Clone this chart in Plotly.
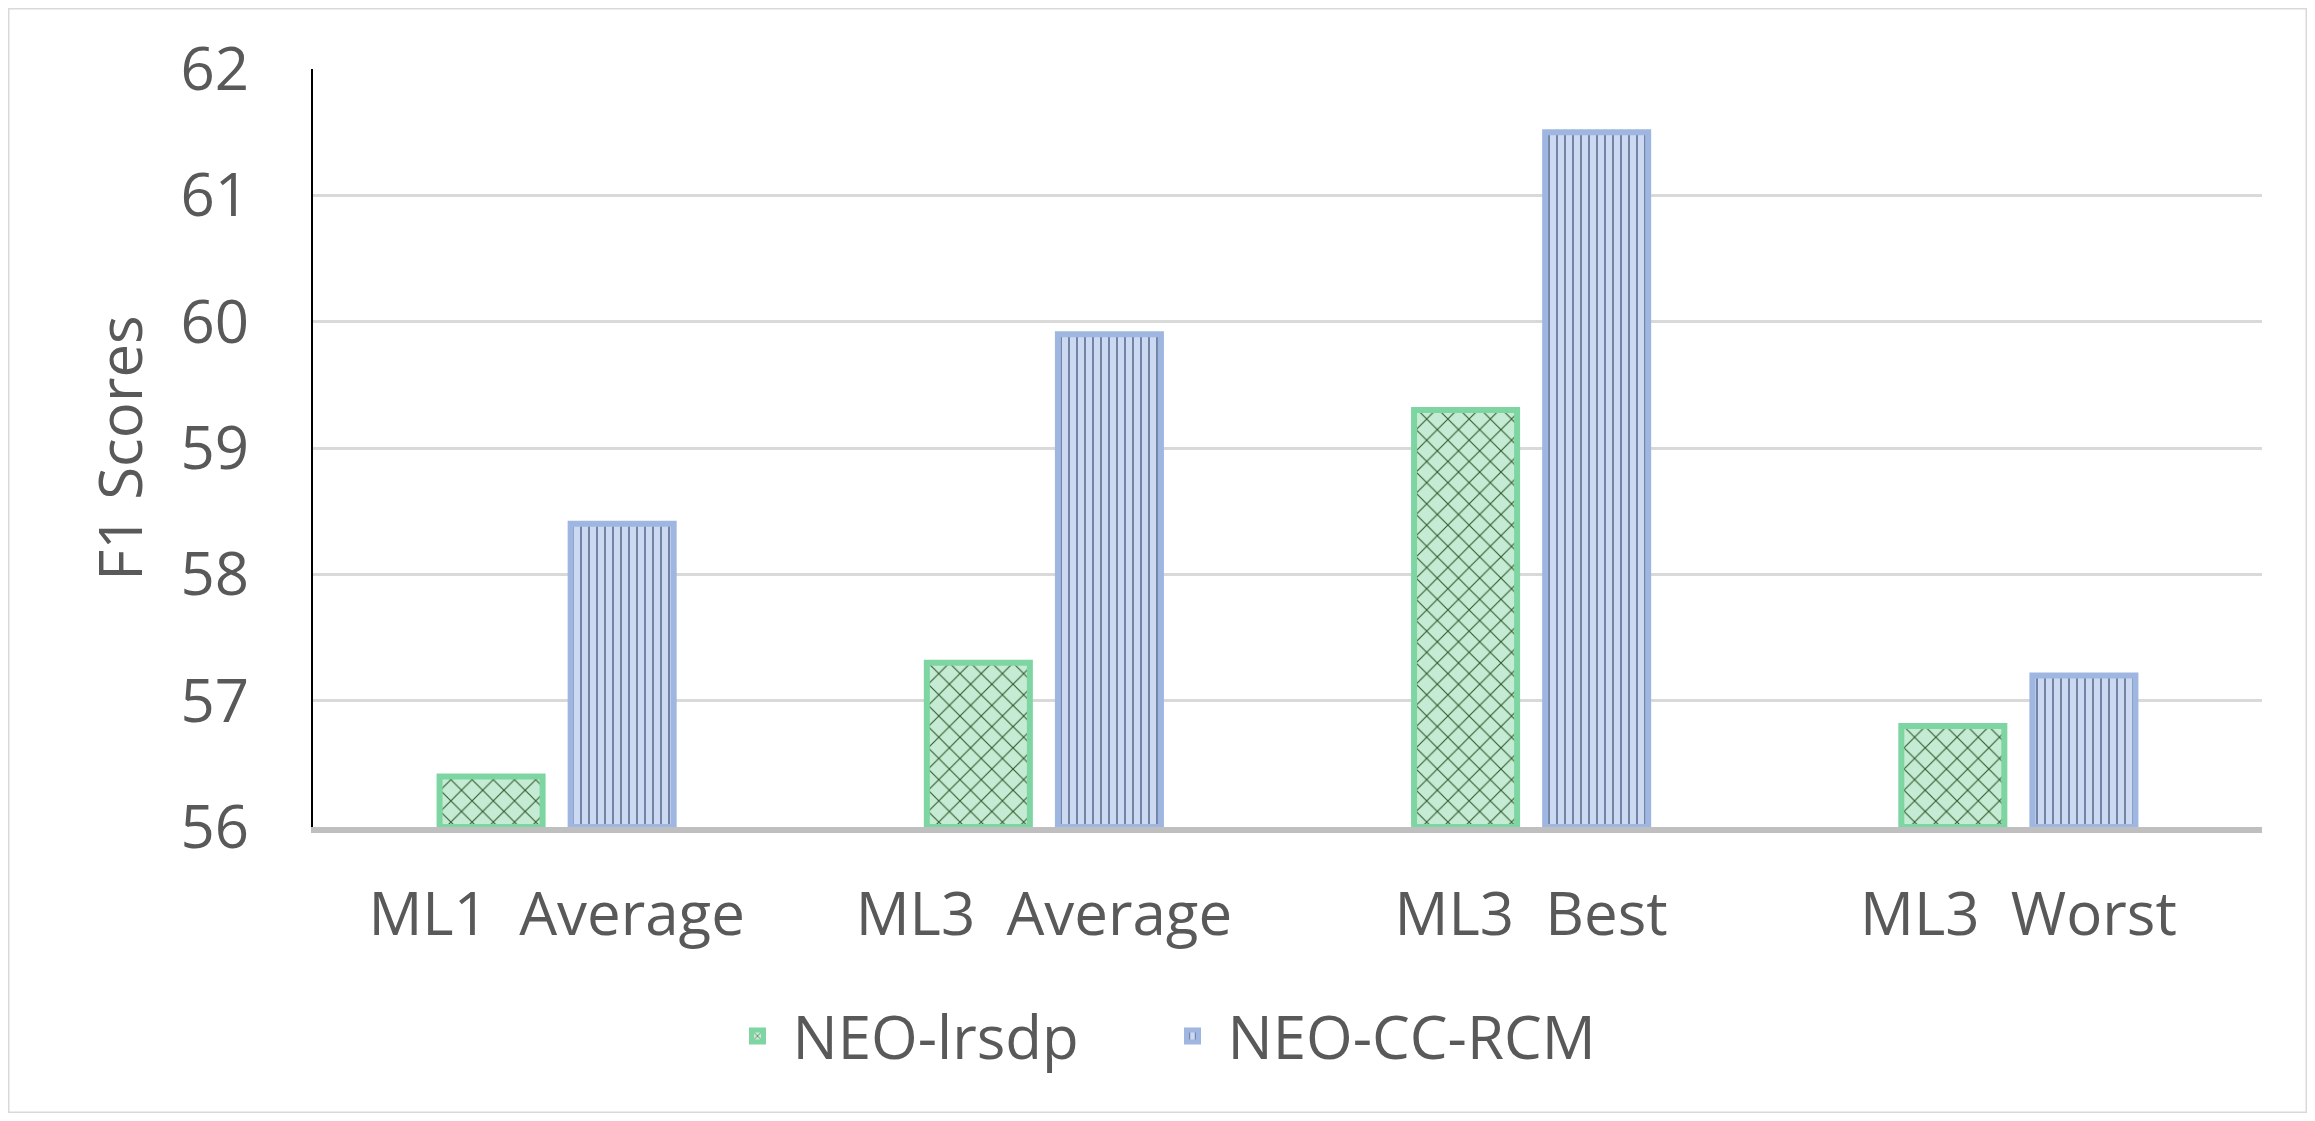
import plotly.graph_objects as go

categories = ["ML1  Average", "ML3  Average", "ML3  Best", "ML3  Worst"]
neo_lrsdp = [56.4, 57.3, 59.3, 56.8]
neo_cc_rcm = [58.4, 59.9, 61.5, 57.2]
y_ticks = [56, 57, 58, 59, 60, 61, 62]
y_floor = 56

TEXT = "#595959"
FONT = "Open Sans"

fig = go.Figure()

# green crosshatch bars
fig.add_trace(go.Bar(
    x=categories, y=[v - y_floor for v in neo_lrsdp], base=y_floor,
    name="NEO-lrsdp",
    marker=dict(
        line=dict(color="#7DD5A2", width=6),
        pattern=dict(shape="x", bgcolor="#C6EBD4", fgcolor="#2E5A2A",
                     size=15, solidity=0.14, fillmode="replace"),
    ),
))

# blue dashed bars
fig.add_trace(go.Bar(
    x=categories, y=[v - y_floor for v in neo_cc_rcm], base=y_floor,
    name="NEO-CC-RCM",
    marker=dict(
        line=dict(color="#9FB6E1", width=6),
        pattern=dict(shape="|", bgcolor="#CCD9F0", fgcolor="#1F3864",
                     fgopacity=0.6, size=8, solidity=0.22, fillmode="replace"),
    ),
))

# light frame round the whole chart
fig.add_shape(type="rect", xref="paper", yref="paper",
              x0=-0.1565, x1=1.0231, y0=-0.3773, y1=1.0805,
              line=dict(color="#D9D9D9", width=3), layer="below")

fig.update_layout(
    width=2299, height=1105,
    margin=dict(l=305, r=45, t=61, b=286),
    paper_bgcolor="white", plot_bgcolor="white",
    font=dict(family=FONT, color=TEXT, size=60),
    barmode="group", bargap=0.462, bargroupgap=0.214,
    showlegend=True,
    legend=dict(orientation="h", xref="container", yref="container",
                x=0.5, xanchor="center", y=0.0697, yanchor="middle",
                font=dict(size=60, color=TEXT), itemwidth=60,
                entrywidth=360, traceorder="normal"),
    xaxis=dict(showline=True, linecolor="#BFBFBF", linewidth=6,
               showgrid=False, ticks="", ticklabelstandoff=30,
               tickfont=dict(size=60, color=TEXT)),
    yaxis=dict(range=[56, 62], tickvals=y_ticks, showline=True,
               linecolor="black", linewidth=2, showgrid=True,
               gridcolor="#D9D9D9", gridwidth=3, zeroline=False,
               ticks="", ticklabelstandoff=50,
               tickfont=dict(size=60, color=TEXT),
               title=dict(text="F1 Scores", standoff=18,
                          font=dict(size=60, color=TEXT))),
)

fig.write_html("out.html")
